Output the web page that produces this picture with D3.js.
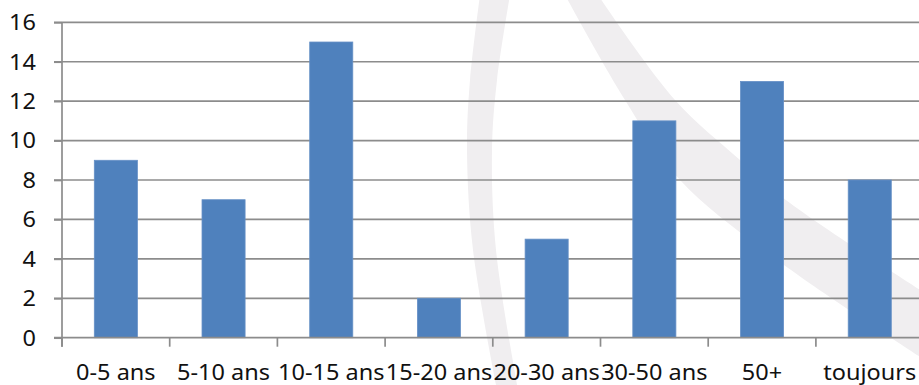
<!DOCTYPE html>
<html>
<head>
<meta charset="utf-8">
<script src="https://cdn.jsdelivr.net/npm/d3@7"></script>
<style>
  html, body { margin: 0; padding: 0; background: #fff; }
  svg { display: block; }
  text { font-family: "Noto Sans", "Open Sans", sans-serif; fill: #111; }
</style>
</head>
<body>
<svg id="chart" width="919" height="385"></svg>
<script>
// Age groups and counts
const categories = ["0-5 ans", "5-10 ans", "10-15 ans", "15-20 ans", "20-30 ans", "30-50 ans", "50+", "toujours"];
const counts = [9, 7, 15, 2, 5, 11, 13, 8];
const yTicks = [0, 2, 4, 6, 8, 10, 12, 14, 16];

// Light background emblem strokes (edge outlines)
const arcLeftOuter = [[480, -5], [470, 80], [467, 150], [473, 250], [497, 390]];
const arcLeftInner = [[510, -5], [497, 80], [492, 150], [496, 250], [518, 390]];
const bandLower = [[565, -5], [625, 100], [680, 180], [780, 262], [925, 360]];
const bandUpper = [[598, -5], [675, 100], [740, 160], [790, 203], [925, 293]];

(function () {
  const W = 919;
  const plotLeft = 62, plotTop = 22.3, plotBottom = 337.7, plotRight = 62 + 8 * 107.7;
  const svg = d3.select("#chart");

  const x = d3.scaleBand().domain(categories).range([plotLeft, plotRight])
    .paddingInner(0.6).paddingOuter(0.3);
  const y = d3.scaleLinear().domain([0, 16]).range([plotBottom, plotTop]);

  // Emblem shapes
  const curve = d3.line().curve(d3.curveCatmullRom);
  function band(a, b) {
    return curve(a) + "L" + curve(b.slice().reverse()).slice(1) + "Z";
  }
  const emblem = svg.append("g").attr("fill", "#f0eef0");
  emblem.append("path").attr("d", band(arcLeftOuter, arcLeftInner));
  emblem.append("path").attr("d", band(bandLower, bandUpper));

  // Horizontal gridlines with left tick stubs
  svg.append("g").selectAll("line").data(yTicks.slice(1)).join("line")
    .attr("x1", plotLeft - 8).attr("x2", W)
    .attr("y1", d => y(d)).attr("y2", d => y(d))
    .attr("stroke", "#8c8c8c").attr("stroke-width", 1.7);

  // Bars
  svg.append("g").selectAll("rect").data(counts).join("rect")
    .attr("x", (d, i) => x(categories[i]))
    .attr("width", x.bandwidth())
    .attr("y", d => y(d))
    .attr("height", d => y(0) - y(d))
    .attr("fill", "#4f81bd")
    .attr("stroke", "#6690c6").attr("stroke-width", 0.8);

  // Y axis labels
  const yAxis = svg.append("g").attr("transform", `translate(${plotLeft},0)`)
    .call(d3.axisLeft(y).tickValues(yTicks).tickSize(8).tickPadding(0));
  yAxis.select(".domain").remove();
  yAxis.selectAll("line").attr("stroke", "#8c8c8c").attr("stroke-width", 1.7);
  yAxis.selectAll("text")
    .attr("x", 0).attr("dy", "0.35em")
    .attr("text-anchor", "end")
    .attr("transform", "translate(-26,0) scale(1.12,1)")
    .style("font-size", "21px").style("fill", "#111");

  // Y axis line
  svg.append("line")
    .attr("x1", plotLeft).attr("x2", plotLeft)
    .attr("y1", y(16)).attr("y2", plotBottom + 9)
    .attr("stroke", "#8c8c8c").attr("stroke-width", 1.7);

  // X axis
  const step = x.step();
  const xAxis = svg.append("g").attr("transform", `translate(0,${plotBottom})`);
  xAxis.append("line").attr("x1", plotLeft - 8).attr("x2", W)
    .attr("stroke", "#8c8c8c").attr("stroke-width", 1.7);
  xAxis.selectAll("line.tk").data(d3.range(categories.length + 1)).join("line")
    .attr("class", "tk")
    .attr("x1", i => plotLeft + i * step).attr("x2", i => plotLeft + i * step)
    .attr("y1", 0).attr("y2", 9)
    .attr("stroke", "#8c8c8c").attr("stroke-width", 1.7);
  xAxis.selectAll("text").data(categories).join("text")
    .attr("transform", d => `translate(${x(d) + x.bandwidth() / 2},42) scale(1.12,1)`)
    .attr("text-anchor", "middle")
    .style("font-size", "21px")
    .text(d => d);
})();
</script>
</body>
</html>
